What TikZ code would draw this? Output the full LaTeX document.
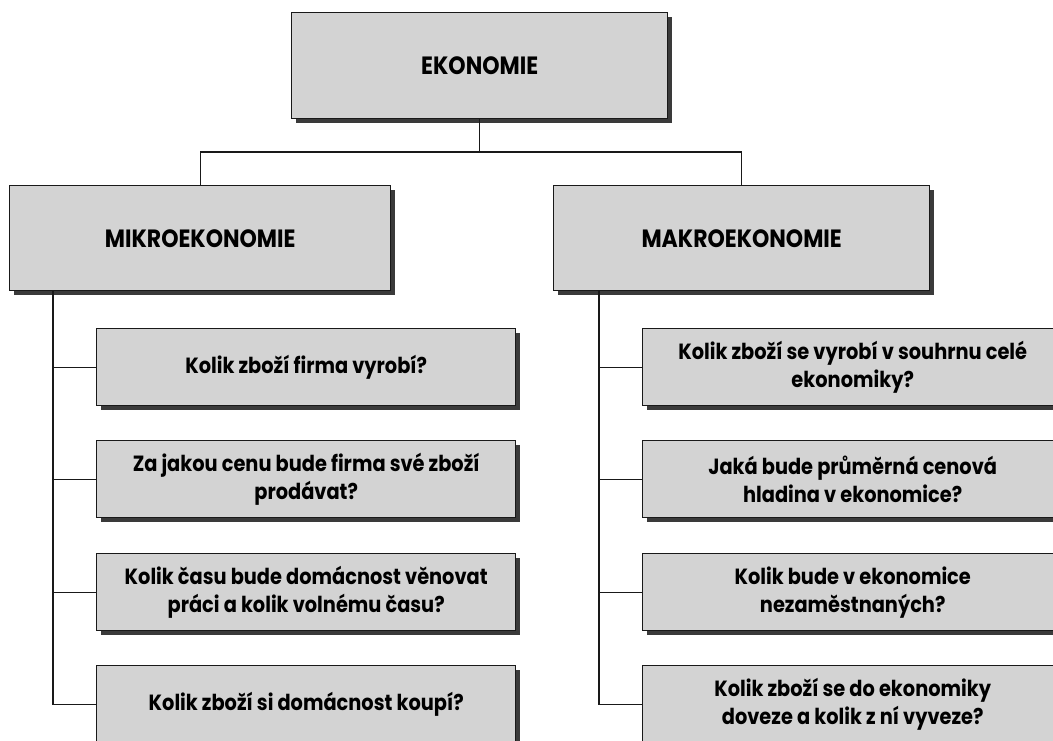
\documentclass[tikz,border=0pt]{standalone}
\usepackage{fontspec}
\setmainfont{Poppins}
\newfontfamily\qfont{Poppins}[FakeStretch=0.88]
\usetikzlibrary{shadows}
\definecolor{boxfill}{HTML}{D3D3D3}
\definecolor{shad}{HTML}{3A3A3A}
\begin{document}
\begin{tikzpicture}[x=1pt,y=-1pt,
  box/.style={draw=black!90, line width=1.4pt, fill=boxfill, align=center, inner sep=0pt,
    font=\qfont\bfseries\fontsize{22}{28}\selectfont,
    drop shadow={shadow xshift=4pt, shadow yshift=-4pt, fill=shad, opacity=1}},
  head/.style={box, font=\qfont\bfseries\fontsize{25}{28}\selectfont},
  qbox/.style={box, anchor=north west, minimum height=77pt},
  conn/.style={line width=1.4pt, black!90}]
\useasboundingbox (0,0) rectangle (1053,740);
\clip (0,0) rectangle (1053,740);
% headers
\node[head, anchor=north west, minimum width=376pt, minimum height=106pt] (eko) at (291,12) {EKONOMIE};
\node[head, anchor=north west, minimum width=381pt, minimum height=105pt] (mik) at (9,185) {MIKROEKONOMIE};
\node[head, anchor=north west, minimum width=376pt, minimum height=105pt] (mak) at (553,185) {MAKROEKONOMIE};
% left questions
\node[qbox, minimum width=419pt] (l1) at (96,328) {Kolik zboží firma vyrobí?};
\node[qbox, minimum width=419pt] (l2) at (96,440) {Za jakou cenu bude firma své zboží\\prodávat?};
\node[qbox, minimum width=419pt] (l3) at (96,553) {Kolik času bude domácnost věnovat\\práci a kolik volnému času?};
\node[qbox, minimum width=419pt] (l4) at (96,665) {Kolik zboží si domácnost koupí?};
% right questions
\node[qbox, minimum width=420pt] (r1) at (642,328) {Kolik zboží se vyrobí v souhrnu celé\\ekonomiky?};
\node[qbox, minimum width=420pt] (r2) at (642,440) {Jaká bude průměrná cenová\\hladina v ekonomice?};
\node[qbox, minimum width=420pt] (r3) at (642,553) {Kolik bude v ekonomice\\nezaměstnaných?};
\node[qbox, minimum width=420pt] (r4) at (642,665) {Kolik zboží se do ekonomiky\\doveze a kolik z ní vyveze?};
% connectors
\coordinate (bus) at (eko.south |- 0,152);
\draw[conn] (eko.south) -- (bus);
\draw[conn] (mik.north) |- (bus) -| (mak.north);
\coordinate (ls) at (53,290);
\coordinate (rs) at (599,290);
\draw[conn] (ls) |- (l4.west);
\draw[conn] (ls |- l1.west) -- (l1.west);
\draw[conn] (ls |- l2.west) -- (l2.west);
\draw[conn] (ls |- l3.west) -- (l3.west);
\draw[conn] (rs) |- (r4.west);
\draw[conn] (rs |- r1.west) -- (r1.west);
\draw[conn] (rs |- r2.west) -- (r2.west);
\draw[conn] (rs |- r3.west) -- (r3.west);
\end{tikzpicture}
\end{document}
